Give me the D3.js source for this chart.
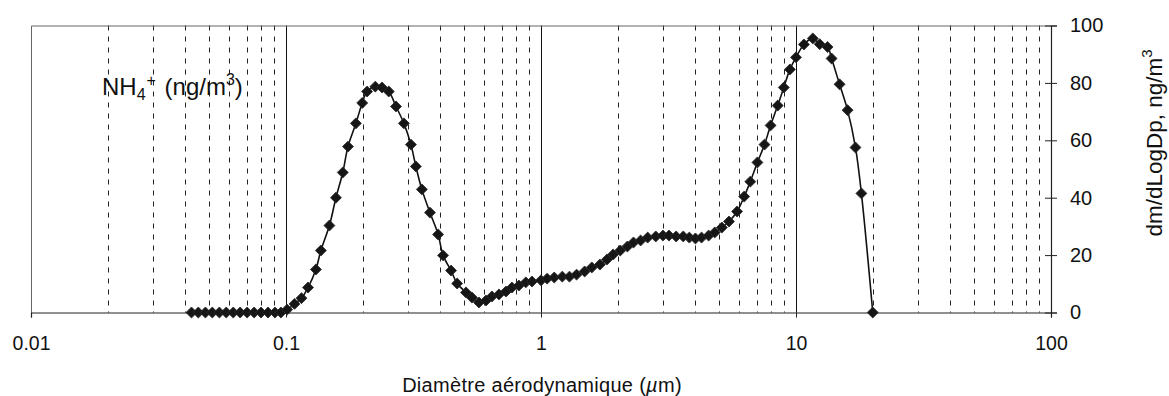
<!DOCTYPE html>
<html>
<head>
<meta charset="utf-8">
<script src="https://cdn.jsdelivr.net/npm/d3@7"></script>
<style>
  html, body { margin: 0; padding: 0; background: #fff; }
  svg text { font-family: "Liberation Sans", Arial, sans-serif; fill: #111; }
</style>
</head>
<body>
<svg id="chart" width="1169" height="396"></svg>
<script>
// Aerodynamic diameter (µm) of each point of the size distribution
const diameters = [
  0.0426, 0.0453, 0.0483, 0.0514, 0.0548, 0.0583, 0.0621, 0.0661, 0.0704, 0.0750,
  0.0798, 0.0850, 0.0905, 0.0955,
  0.101, 0.108, 0.115, 0.122, 0.131, 0.137, 0.148, 0.157, 0.167, 0.175,
  0.188, 0.199, 0.208, 0.224, 0.238, 0.253, 0.270, 0.290, 0.309, 0.323,
  0.341, 0.367, 0.395, 0.413, 0.444, 0.469, 0.508, 0.536, 0.571, 0.609,
  0.642, 0.684, 0.729, 0.769, 0.819, 0.872, 0.922, 1.0, 1.057, 1.127,
  1.212, 1.293, 1.379, 1.483, 1.582, 1.702, 1.815, 1.918, 2.046, 2.182,
  2.305, 2.458, 2.620, 2.819, 3.007, 3.177, 3.388, 3.613, 3.817, 4.033,
  4.261, 4.544, 4.801, 5.120, 5.460, 5.874, 6.264, 6.618, 7.058, 7.524,
  7.950, 8.478, 8.958, 9.465, 10.0, 10.74, 11.64, 12.39, 13.30, 13.79,
  14.82, 15.93, 17.11, 18.05, 20.0
];

// NH4+ mass distribution dm/dLogDp (ng/m3)
const nh4 = [
  0, 0, 0, 0, 0, 0, 0, 0, 0, 0,
  0, 0, 0, 0,
  1, 3, 5, 8.7, 15, 21.6, 30.3, 40, 48.8, 57.8,
  65.9, 73, 77, 78.7, 78.4, 77, 71.8, 65.9, 58.5, 50.9,
  42.9, 34.8, 27.2, 19.9, 14.6, 10.1, 7, 5.2, 3.5, 4.2,
  5.6, 6.3, 7.3, 8.7, 9.4, 10.5, 10.8, 11.2, 11.8, 12.2,
  12.5, 12.5, 13.2, 14.3, 15.7, 16.7, 18.5, 20.2, 21.6, 23,
  24.4, 25.1, 26.1, 26.5, 26.8, 26.8, 26.5, 26.5, 26.1, 25.8,
  26.1, 26.8, 27.9, 29.6, 31.7, 35.2, 40.4, 45.6, 52.3, 58.5,
  65.2, 72.1, 78.4, 84.7, 88.9, 93.4, 95.5, 93.5, 92.5, 88.5,
  79.5, 70.5, 57.5, 41.5, 0
];

const xTickValues = [0.01, 0.1, 1, 10, 100];
const xTickLabels = ["0.01", "0.1", "1", "10", "100"];
const yTickValues = [0, 20, 40, 60, 80, 100];

const svg = d3.select("#chart");
const plot = { left: 31, right: 1051, top: 25.5, bottom: 312.5 };

const x = d3.scaleLog().domain([0.01, 100]).range([plot.left, plot.right]);
const y = d3.scaleLinear().domain([0, 100]).range([plot.bottom, plot.top]);

// Vertical grid: solid at decades, dashed at the 2..9 multiples
const minorGrid = [];
[0.01, 0.1, 1, 10].forEach(dec => {
  for (let k = 2; k <= 9; k++) minorGrid.push(dec * k);
});

svg.append("g")
  .selectAll("line")
  .data(minorGrid)
  .join("line")
  .attr("x1", d => Math.round(x(d)) + 0.5)
  .attr("x2", d => Math.round(x(d)) + 0.5)
  .attr("y1", plot.top)
  .attr("y2", plot.bottom)
  .attr("stroke", "#222")
  .attr("stroke-width", 1)
  .attr("stroke-dasharray", "5,6");

svg.append("g")
  .selectAll("line")
  .data([0.1, 1, 10])
  .join("line")
  .attr("x1", d => Math.round(x(d)) + 0.5)
  .attr("x2", d => Math.round(x(d)) + 0.5)
  .attr("y1", plot.top)
  .attr("y2", plot.bottom)
  .attr("stroke", "#111")
  .attr("stroke-width", 1);

// Plot frame (top and left edges)
svg.append("path")
  .attr("d", `M${plot.left + 0.5},${plot.bottom} V${plot.top + 0.5} H${plot.right}`)
  .attr("fill", "none")
  .attr("stroke", "#666")
  .attr("stroke-width", 1);

// Bottom axis (log diameter)
const xAxis = d3.axisBottom(x)
  .tickValues(xTickValues)
  .tickFormat((d, i) => xTickLabels[i])
  .tickSize(5)
  .tickPadding(19);

const gx = svg.append("g")
  .attr("transform", `translate(0,${plot.bottom})`)
  .call(xAxis);
gx.select(".domain").attr("stroke", "#222").attr("stroke-width", 1.2);
gx.selectAll(".tick line").attr("stroke", "#222");
gx.selectAll(".tick text")
  .attr("font-size", 19.5)
  .attr("font-family", "Liberation Sans, Arial, sans-serif")
  .attr("fill", "#111");

// Right axis (concentration), ticks crossing the axis line
const yAxis = d3.axisRight(y)
  .tickValues(yTickValues)
  .tickSize(6)
  .tickPadding(13);

const gy = svg.append("g")
  .attr("transform", `translate(${plot.right},0)`)
  .call(yAxis);
gy.select(".domain").attr("stroke", "#222").attr("stroke-width", 1.2);
gy.selectAll(".tick line").attr("x1", -6).attr("stroke", "#222");
gy.selectAll(".tick text")
  .attr("font-size", 20)
  .attr("font-family", "Liberation Sans, Arial, sans-serif")
  .attr("fill", "#111");

// Smoothed distribution curve
const pts = diameters.map((d, i) => [d, nh4[i]]);
const line = d3.line()
  .x(d => x(d[0]))
  .y(d => y(d[1]))
  .curve(d3.curveCatmullRom.alpha(0.5));

svg.append("path")
  .datum(pts)
  .attr("d", line)
  .attr("fill", "none")
  .attr("stroke", "#111")
  .attr("stroke-width", 1.6);

// Diamond markers
const diamond = d3.symbol().type(d3.symbolSquare).size(60);
svg.append("g")
  .selectAll("path")
  .data(pts)
  .join("path")
  .attr("d", diamond)
  .attr("transform", d => `translate(${x(d[0])},${y(d[1])}) rotate(45)`)
  .attr("fill", "#161616")
  .attr("stroke", "#2a2a2a")
  .attr("stroke-width", 0.8);

// Species label
const lab = svg.append("text")
  .attr("x", 102)
  .attr("y", 95)
  .attr("font-size", 24);
lab.append("tspan").text("NH");
lab.append("tspan").text("4").attr("font-size", 16).attr("dy", 5);
lab.append("tspan").text("+").attr("font-size", 16).attr("dy", -14).attr("dx", 1);
lab.append("tspan").text("\u00a0(ng/m").attr("dy", 9).attr("dx", 2);
lab.append("tspan").text("3").attr("font-size", 16).attr("dy", -10);
lab.append("tspan").text(")").attr("dy", 10);

// X axis title
const xt = svg.append("text")
  .attr("x", 542)
  .attr("y", 392)
  .attr("text-anchor", "middle")
  .attr("font-size", 20)
  .attr("letter-spacing", 0.3);
xt.append("tspan").text("Diamètre aérodynamique (");
xt.append("tspan").text("µ").attr("font-style", "italic");
xt.append("tspan").text("m)");

// Y axis title (rotated)
const yt = svg.append("text")
  .attr("transform", "translate(1162,143) rotate(-90)")
  .attr("text-anchor", "middle")
  .attr("font-size", 22.5);
yt.append("tspan").text("dm/dLogDp, ng/m");
yt.append("tspan").text("3").attr("font-size", 15).attr("dy", -10);
</script>
</body>
</html>
